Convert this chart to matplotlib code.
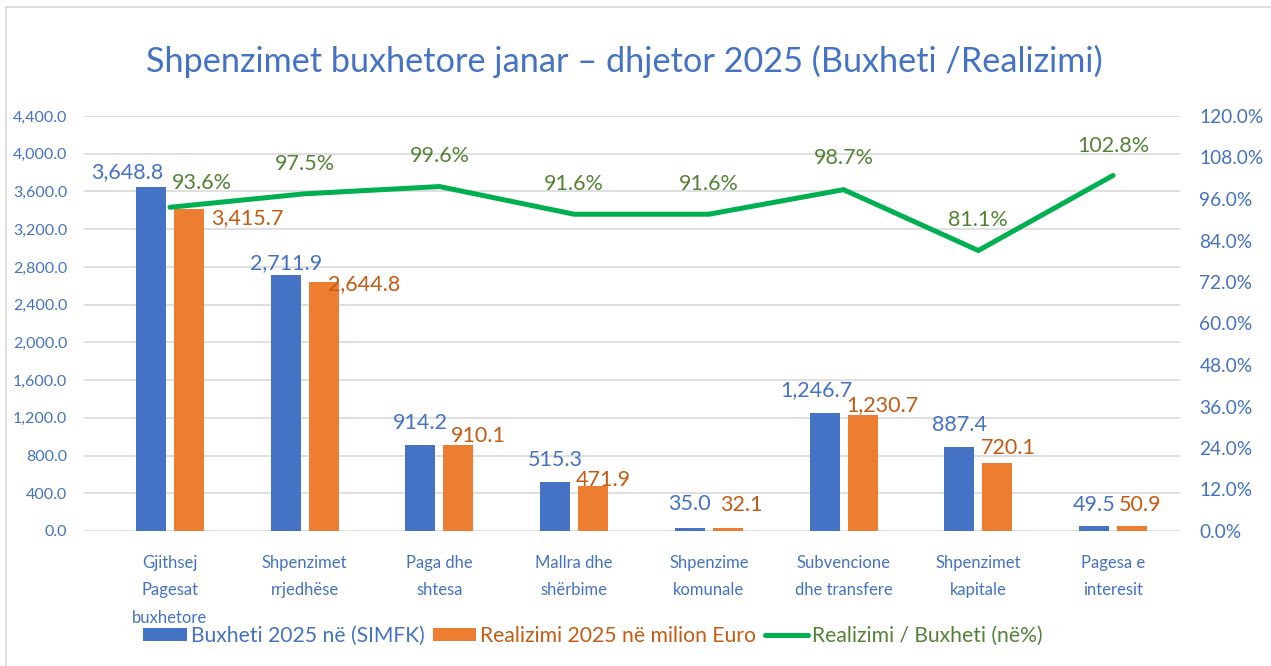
import matplotlib
matplotlib.use("Agg")
import matplotlib.pyplot as plt
from matplotlib.patches import Patch
from matplotlib.lines import Line2D
from matplotlib.ticker import FuncFormatter, MultipleLocator
import numpy as np

# Chart data
categories = [
    "Gjithsej\nPagesat\nbuxhetore",
    "Shpenzimet\nrrjedhëse",
    "Paga dhe\nshtesa",
    "Mallra dhe\nshërbime",
    "Shpenzime\nkomunale",
    "Subvencione\ndhe transfere",
    "Shpenzimet\nkapitale",
    "Pagesa e\ninteresit",
]
budget = [3648.8, 2711.9, 914.2, 515.3, 35.0, 1246.7, 887.4, 49.5]
realized = [3415.7, 2644.8, 910.1, 471.9, 32.1, 1230.7, 720.1, 50.9]
ratio = [93.6, 97.5, 99.6, 91.6, 91.6, 98.7, 81.1, 102.8]

series_names = [
    "Buxheti 2025 në (SIMFK)",
    "Realizimi 2025 në milion Euro",
    "Realizimi / Buxheti (në%)",
]
title = "Shpenzimet buxhetore janar – dhjetor 2025 (Buxheti /Realizimi)"

# Colours
BLUE = "#4472C4"
ORANGE = "#ED7D31"
ORANGE_TXT = "#C55A11"
GREEN = "#00B050"
GREEN_TXT = "#548235"
GRID = "#D9D9D9"

plt.rcParams["font.family"] = ["Lato", "DejaVu Sans"]

W, H = 1271, 666
fig = plt.figure(figsize=(W / 100, H / 100), dpi=100)

# Plot area in pixels: left 84, right 1180, top 116, bottom 531
ax = fig.add_axes([84 / W, 1 - 531 / H, (1180 - 84) / W, (531 - 116) / H])
ax2 = ax.twinx()

x = np.arange(len(categories))
bar_w = 0.223
off = 0.141

ax.bar(x - off, budget, bar_w, color=BLUE, zorder=3)
ax.bar(x + off, realized, bar_w, color=ORANGE, zorder=3)
ax2.plot(x, ratio, color=GREEN, linewidth=3.6, solid_capstyle="round",
         solid_joinstyle="miter", zorder=4)

ax.set_xlim(-0.638, 7.497)
ax.set_ylim(0, 4400)
ax2.set_ylim(0, 120)
ax.yaxis.set_major_locator(MultipleLocator(400))
ax2.yaxis.set_major_locator(MultipleLocator(12))
ax.yaxis.set_major_formatter(FuncFormatter(lambda v, p: f"{v:,.1f}"))
ax2.yaxis.set_major_formatter(FuncFormatter(lambda v, p: f"{v:.1f}%"))

ax.grid(axis="y", color=GRID, linewidth=1.2, zorder=0)
ax.set_axisbelow(True)
for a in (ax, ax2):
    for s in a.spines.values():
        s.set_visible(False)

ax.set_xticks(x)
ax.set_xticklabels(categories, linespacing=1.9)
ax.tick_params(axis="x", length=0, pad=17, labelsize=12, labelcolor=BLUE)
ax.tick_params(axis="y", length=0, pad=12, labelsize=11.5, labelcolor=BLUE)
ax2.tick_params(axis="y", length=0, pad=14, labelsize=13.8, labelcolor=BLUE)

# Data labels: offsets (dx, up) in pixels from the anchor point to the label centre
LBL = 15.5
cap = 0.36 * LBL * 100 / 72
blue_off = [(-24, 17), (0, 14), (0, 24), (0, 24), (0, 25), (-8, 25), (0, 24), (0, 23)]
orange_off = [(58, -8), (40, -1), (20, 11), (10, 8), (14, 25), (20, 12), (11, 17), (8, 23)]
green_off = [(32, 26), (0, 32), (0, 32), (0, 32), (0, 32), (0, 33), (0, 32), (0, 31)]


def put_label(a, xv, yv, text, d, color):
    a.annotate(text, (xv, yv), xytext=(d[0], d[1] - cap), textcoords="offset pixels",
               ha="center", va="baseline", fontsize=LBL, color=color, zorder=6,
               annotation_clip=False)


for i in range(len(categories)):
    put_label(ax, x[i] - off, budget[i], f"{budget[i]:,.1f}", blue_off[i], BLUE)
    put_label(ax, x[i] + off, realized[i], f"{realized[i]:,.1f}", orange_off[i], ORANGE_TXT)
    put_label(ax2, x[i], ratio[i], f"{ratio[i]:.1f}%", green_off[i], GREEN_TXT)

# Title
fig.text(624 / W, 1 - 72 / H, title, ha="center", va="baseline",
         fontsize=24.7, color=BLUE)

# Legend
handles = [
    Patch(facecolor=BLUE, edgecolor="none"),
    Patch(facecolor=ORANGE, edgecolor="none"),
    Line2D([0], [0], color=GREEN, linewidth=3.6, solid_capstyle="round"),
]
leg = fig.legend(handles, series_names, loc="center", ncol=3, frameon=False,
                 bbox_to_anchor=(593 / W, 1 - 636 / H), fontsize=15.2,
                 handlelength=2.04, handleheight=0.62, handletextpad=0.2,
                 columnspacing=0.4, borderaxespad=0)
for t, c in zip(leg.get_texts(), [BLUE, ORANGE_TXT, GREEN_TXT]):
    t.set_color(c)

# Chart border (top and left edges only are visible)
fig.add_artist(Line2D([6 / W, 1], [1 - 7 / H, 1 - 7 / H], color=GRID, linewidth=1.2))
fig.add_artist(Line2D([6 / W, 6 / W], [0, 1 - 7 / H], color=GRID, linewidth=1.2))

fig.savefig("out.png", dpi=100, facecolor="white")
